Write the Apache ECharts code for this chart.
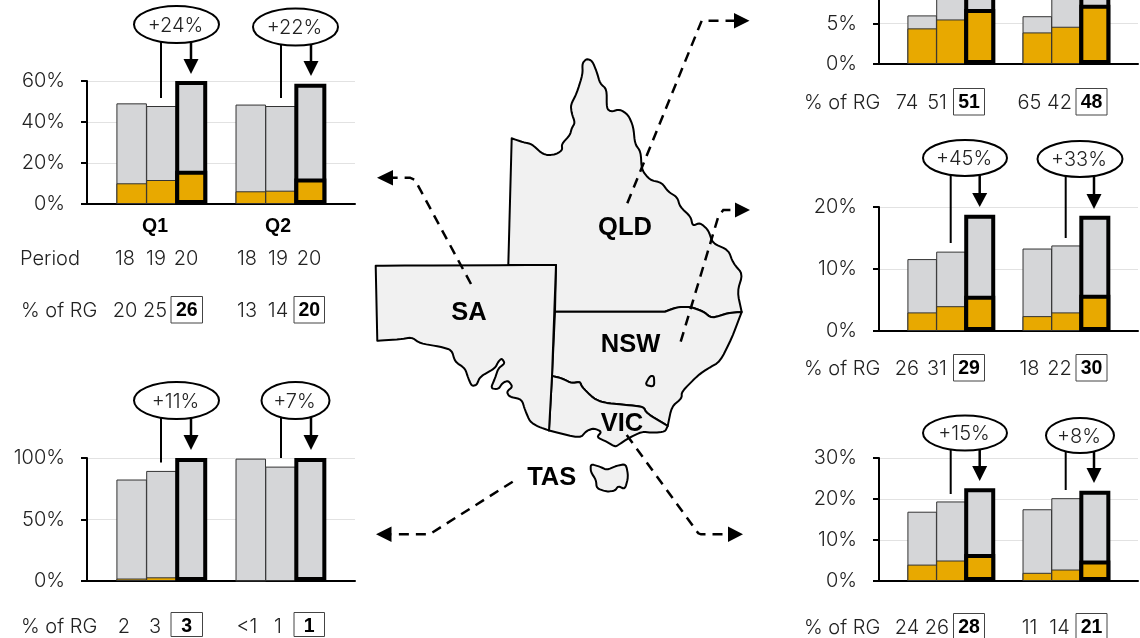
<!DOCTYPE html>
<html>
<head>
<meta charset="utf-8">
<style>html,body{margin:0;padding:0;background:#fff}#chart{width:1140px;height:638px}</style>
<script src="https://cdn.jsdelivr.net/npm/echarts@6/dist/echarts.min.js"></script>
</head>
<body>
<div id="chart"></div>
<script>
// values, six bars per state: Q1 18/19/20, Q2 18/19/20
var saOrange = [10.1, 11.7, 16.2, 6.2, 6.5, 12.5];
var saTotal = [49.1, 47.8, 60, 48.5, 47.8, 58.7];
var tasOrange = [2, 3, 3, 0.3, 0.7, 1.5];
var tasTotal = [82.5, 89.5, 100, 99.5, 93, 100];
var qldOrange = [4.4, 5.5, 6.8, 3.9, 4.6, 7.3];
var qldTotal = [6, 11, 13.5, 5.9, 10, 13.9]; // tall ones run off the top of the picture, estimated
var nswOrange = [3, 4, 5.7, 2.4, 3, 5.85];
var nswTotal = [11.6, 12.8, 18.75, 13.3, 13.8, 18.6];
var vicOrange = [4, 5, 6.6, 2, 2.8, 5];
var vicTotal = [16.9, 19.4, 22.6, 17.5, 20.2, 22];

var periods = ['18', '19', '20', '18', '19', '20'];
var saRg = ['20', '25', '26', '13', '14', '20'];
var tasRg = ['2', '3', '3', '<1', '1', '1'];
var qldRg = ['74', '51', '51', '65', '42', '48'];
var nswRg = ['26', '31', '29', '18', '22', '30'];
var vicRg = ['24', '26', '28', '11', '14', '21'];
var quarters = ['Q1', 'Q2'];
var slots = ['', '18', '19', '20', '', '18', '19', '20', ''];

var font = 'Inter, "Liberation Sans", sans-serif';
var boldFont = '"Liberation Sans", Arial, sans-serif';
var textColor = '#222';
var chartDom = document.getElementById('chart');
var myChart = echarts.init(chartDom, null, {renderer: 'canvas'});

var grids = [], xAxes = [], yAxes = [], series = [], g = [];

function addPanel(left, width, top, height, max, interval, orange, total, thinW, thickW) {
    var i = grids.length;
    grids.push({left: left, width: width, top: top, height: height, outerBoundsMode: 'none'});
    xAxes.push({
        gridIndex: i, type: 'category', data: slots,
        axisLine: {lineStyle: {color: '#000', width: 2}},
        axisTick: {show: false}, axisLabel: {show: false}
    });
    // the highlighted bars sit on a hidden copy of the axis so they can be wider
    xAxes.push({gridIndex: i, type: 'category', data: slots, show: false});
    yAxes.push({
        gridIndex: i, type: 'value', min: 0, max: max, interval: interval,
        axisLine: {show: true, lineStyle: {color: '#000', width: 2}},
        axisTick: {show: true, length: 6, lineStyle: {color: '#000', width: 2}},
        axisLabel: {formatter: '{value}%', margin: 22, fontSize: 20, fontWeight: 300, fontFamily: font, color: textColor},
        splitLine: {lineStyle: {color: '#e2e2e2', width: 1}}
    });
    series.push(barSeries(2 * i, i, total, '#d5d6d8', false, thinW));
    series.push(barSeries(2 * i, i, orange, '#e8a900', false, thinW));
    series.push(barSeries(2 * i + 1, i, total, '#d5d6d8', true, thickW));
    series.push(barSeries(2 * i + 1, i, orange, '#e8a900', true, thickW));
}

function barSeries(axis, yIdx, vals, color, thick, w) {
    var data = [null];
    vals.forEach(function (v, k) {
        var last = k === 2 || k === 5;
        data.push(last === thick ? v : null);
        if (k === 2) data.push(null);
    });
    data.push(null);
    return {
        type: 'bar', xAxisIndex: axis, yAxisIndex: yIdx, barWidth: w, barGap: '-100%', z: thick ? 4 : 2,
        itemStyle: {color: color, borderColor: thick ? '#000' : '#333', borderWidth: thick ? 4 : 1},
        data: data, silent: true
    };
}

function txt(s, x, y, opt) {
    opt = opt || {};
    g.push({
        type: 'text', z: 20, x: x, y: y + 1, silent: true,
        style: {
            text: s, fontFamily: opt.bold ? boldFont : font, fontSize: opt.size || 20, fontWeight: opt.bold ? 'bold' : 300,
            fill: opt.bold ? '#000' : textColor, align: opt.align || 'center', verticalAlign: 'middle'
        }
    });
}

function box(x1, x2, y1, y2) {
    g.push({
        type: 'rect', z: 19, silent: true, shape: {x: x1, y: y1, width: x2 - x1, height: y2 - y1},
        style: {fill: '#fff', stroke: '#444', lineWidth: 1}
    });
}

// row under a panel: plain numbers, then the boxed bold one
function rgRow(vals, xs, labelX, y, boxes, below) {
    txt('% of RG', labelX, y, {align: 'left'});
    vals.forEach(function (v, k) {
        if (k === 2 || k === 5) {
            var b = boxes[k === 2 ? 0 : 1];
            box(b[0], b[1], y - 13.5, y + (below || 13));
            txt(v, (b[0] + b[1]) / 2, y, {bold: true, size: 19.5});
        } else {
            txt(v, xs[k], y);
        }
    });
}

function callout(label, cx, cy, rx, ry, lineX, lineEnd, arrowX, headTop, headTip) {
    g.push({type: 'line', z: 14, silent: true, shape: {x1: lineX, y1: cy, x2: lineX, y2: lineEnd}, style: {stroke: '#000', lineWidth: 2}});
    g.push({type: 'line', z: 14, silent: true, shape: {x1: arrowX, y1: cy, x2: arrowX, y2: headTop + 1}, style: {stroke: '#000', lineWidth: 2.5}});
    g.push({type: 'polygon', z: 14, silent: true, shape: {points: [[arrowX - 7.5, headTop], [arrowX + 7.5, headTop], [arrowX, headTip]]}, style: {fill: '#000'}});
    g.push({type: 'ellipse', z: 15, silent: true, shape: {cx: cx, cy: cy, rx: rx, ry: ry}, style: {fill: '#fff', stroke: '#000', lineWidth: 2}});
    txt(label, cx - 1, cy, {});
}

// corner cutting so the traced coast is not angular; doubled points stay sharp corners
function soften(pts) {
    for (var n = 0; n < 2; n++) {
        var out = [];
        for (var i = 0; i < pts.length; i++) {
            var a = pts[i], b = pts[(i + 1) % pts.length];
            out.push([a[0] * 0.8 + b[0] * 0.2, a[1] * 0.8 + b[1] * 0.2]);
            out.push([a[0] * 0.2 + b[0] * 0.8, a[1] * 0.2 + b[1] * 0.8]);
        }
        pts = out;
    }
    return pts;
}

function state(pts) {
    g.push({
        type: 'polygon', z: 5, silent: true, shape: {points: soften(pts)},
        style: {fill: '#f1f1f1', stroke: '#000', lineWidth: 2, lineJoin: 'round'}
    });
}

function leader(pts, head) {
    g.push({type: 'polyline', z: 12, silent: true, shape: {points: pts}, style: {stroke: '#000', lineWidth: 2.5, lineDash: [10, 7], fill: null}});
    g.push({type: 'polygon', z: 12, silent: true, shape: {points: head}, style: {fill: '#000'}});
}

// --- map outlines ---
var c1 = [511.7, 138.3], c2 = [508.3, 265], c3 = [556, 265], c4 = [375.7, 265.7], c5 = [377.3, 340.7], c6 = [549, 430.5],
    c7 = [555, 311.7], c8 = [741.7, 312], c9 = [667.7, 426], c10 = [552, 376];
var borderQldNsw = [[728.3, 313], [711.7, 318.3], [703.3, 311.5], [690, 306.7], [676.7, 307.3], [665, 311.7], [665, 311.7]];
var borderNswVic = [[646.7, 413.3], [643.3, 406.7], [626.7, 405], [603.3, 402.7], [593.3, 398.3], [581.7, 386.7], [580, 381.7], [571.7, 383.3], [561.7, 378.3]];

state([c1, c1, [523.3, 142.3], [531.7, 144], [541.7, 153.3], [548.3, 155.3], [556.7, 154], [562.3, 150], [561.7, 144], [570, 135], [571.7, 128.3],
    [575, 122.7], [571.7, 113.3], [570.7, 105], [576.7, 93.3], [582.7, 74], [582.3, 63.3], [586.7, 58.7], [592.3, 61], [596.7, 71.7], [600, 83.3],
    [606.7, 89.3], [606.7, 108.3], [610.7, 111.7], [620, 109.3], [628.3, 115], [633.3, 126.7], [635, 144], [640.7, 151.7], [641.7, 170], [650, 180],
    [661.7, 182.7], [668.3, 191.7], [677.3, 197.3], [680, 206.7], [690.7, 216.7], [692.7, 226], [700, 222.7], [708.3, 230], [712.7, 243.3], [728.3, 250],
    [733.3, 263.3], [742.7, 274], [737.3, 291.7], c8, c8].concat(borderQldNsw, [c7, c7, c3, c3, c2, c2]));
state([c7, c7, [665, 311.7], [665, 311.7]].concat(borderQldNsw.slice().reverse(), [c8, c8, [731.7, 338.3], [720, 361.7], [708.3, 368.3], [698.3, 375],
    [681.7, 391.7], [681.7, 398.3], [671.7, 406.7], c9, c9], borderNswVic, [c10, c10]));
state([c10, c10].concat(borderNswVic.slice().reverse(), [c9, c9, [665, 431.7], [653.3, 432.7], [641.7, 431.7], [628.3, 438.3], [618.3, 445], [615, 446.7],
    [606.7, 441.7], [596.7, 437.3], [601.7, 431.7], [594, 428.3], [586.7, 430.7], [580, 438.3], c6, c6]));
state([c4, c4, c3, c3, c10, c10, c6, c6, [538.3, 426.7], [530, 421.7], [525, 410], [521.7, 399.3], [509.3, 396.7], [506.7, 391.7], [512.7, 386.7], [508.3, 380.7],
    [502.7, 382.7], [498.3, 389.3], [490.7, 388.3], [495, 378.3], [498.3, 368.3], [505, 363.3], [501.7, 358.3], [498.3, 361.7], [495, 368.3], [480, 376.7],
    [476.7, 385], [471.7, 386], [468.3, 378.3], [465, 368.3], [455, 361.7], [451.7, 350], [440, 346.7], [420, 343.3], [411.7, 337.3], [400, 339.3], c5, c5]);
state([[650, 376], [654, 376], [654.3, 386.7], [645, 385]]);
state([[590.7, 464], [600, 466.7], [606.7, 470], [616.7, 465.7], [626, 464], [628.3, 476.7], [625, 489.3], [618.3, 486], [615, 490.7], [606.7, 491.7], [596.7, 488.3], [596, 480], [590.7, 471.7]]);

txt('QLD', 625, 227, {bold: true, size: 25.5});
txt('SA', 469, 312, {bold: true, size: 25.5});
txt('NSW', 630.5, 344, {bold: true, size: 25.5});
txt('VIC', 622, 423, {bold: true, size: 25.5});
txt('TAS', 551.7, 477, {bold: true, size: 25.5});

leader([[471, 284], [415, 180], [410, 177.7], [393, 177.7]], [[377, 177.7], [393, 170], [393, 185.5]]);
leader([[627.3, 203.3], [701.7, 20.7], [734, 20.7]], [[749.5, 20.7], [734, 13], [734, 28.5]]);
leader([[680.7, 341.7], [718.3, 216.7], [723.3, 210], [735, 210]], [[750, 210], [735, 202.5], [735, 217.5]]);
leader([[626.7, 435], [698.3, 533.3], [701, 534.3], [728, 534.3]], [[743, 534.3], [728, 526.5], [728, 542]]);
leader([[512.7, 481.7], [430, 534], [426, 534.3], [391.5, 534.3]], [[376, 534.3], [391.5, 526.5], [391.5, 542]]);

// --- panels: SA, TAS, QLD, NSW, VIC ---
addPanel(87, 268, 81, 123, 60, 20, saOrange, saTotal, 30.5, 32);
addPanel(87, 268, 458, 123, 100, 50, tasOrange, tasTotal, 30.5, 32);
addPanel(879, 259, -98, 162, 20, 5, qldOrange, qldTotal, 29.5, 31);
addPanel(879, 259, 207, 124, 20, 10, nswOrange, nswTotal, 29.5, 31);
addPanel(879, 259, 458, 123, 30, 10, vicOrange, vicTotal, 29.5, 31);

var leftXs = [125, 155, 0, 247, 278, 0];
var rightXs = [907, 937, 0, 1029.5, 1059.5, 0];
var leftBoxes = [[171, 202.5], [294, 324.5]];
var rightBoxes = [[953.5, 984.5], [1076, 1107]];

txt(quarters[0], 155, 226, {bold: true, size: 19.5});
txt(quarters[1], 278, 226, {bold: true, size: 19.5});
txt('Period', 20, 258, {align: 'left'});
[125, 156, 186, 247, 278, 309].forEach(function (x, k) { txt(periods[k], x, 258); });

rgRow(saRg, leftXs, 21, 310, leftBoxes);
rgRow(tasRg, [124, 155, 0, 247, 278, 0], 21, 626, leftBoxes, 10.5);
rgRow(qldRg, rightXs, 804, 102, rightBoxes);
rgRow(nswRg, rightXs, 804, 368, rightBoxes);
rgRow(vicRg, rightXs, 804, 627, rightBoxes);

callout('+24%', 176.5, 24.5, 42.5, 18.5, 161, 98, 191, 59, 74);
callout('+22%', 295.5, 27, 42.5, 18.5, 281, 98, 311, 61, 76);
callout('+11%', 176.5, 400.5, 42.5, 18.5, 161, 462.5, 191, 435, 450);
callout('+7%', 295.5, 400.5, 34, 18.5, 281, 458, 311, 435, 450);
callout('+45%', 965, 158, 42, 18, 950.7, 243, 979.7, 193, 207);
callout('+33%', 1080, 159, 42.5, 18, 1065.7, 238, 1094, 194, 209);
callout('+15%', 965, 433, 42, 17.5, 950.7, 494, 979.7, 466, 481);
callout('+8%', 1080, 435.5, 34, 17.5, 1065.7, 490, 1094, 468, 483);

myChart.setOption({
    animation: false,
    grid: grids,
    xAxis: xAxes,
    yAxis: yAxes,
    series: series,
    graphic: {elements: g}
});
</script>
</body>
</html>
